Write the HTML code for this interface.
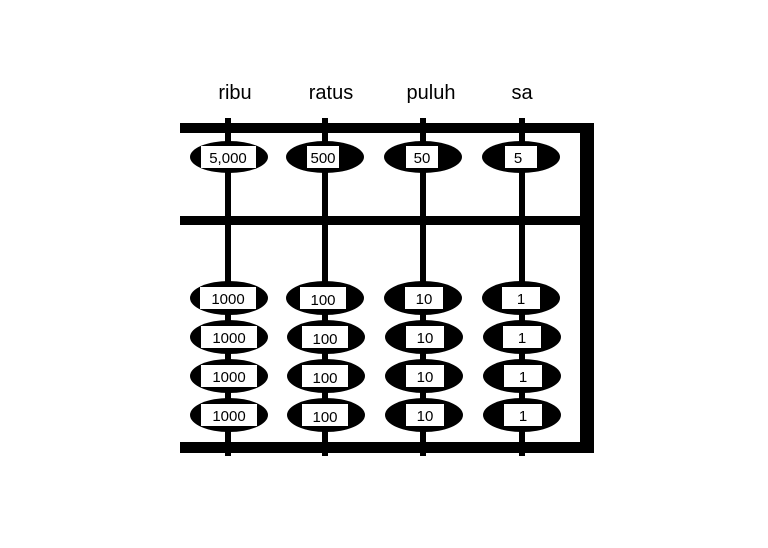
<!DOCTYPE html>
<html><head><style>body{margin:0;background:#fff}</style></head><body>
<svg width="768" height="543" xmlns="http://www.w3.org/2000/svg" font-family="Liberation Sans, sans-serif">
<rect width="768" height="543" fill="#fff"/>
<g font-size="20" text-anchor="middle" fill="#000">
<text x="235" y="99">ribu</text><text x="331" y="99">ratus</text><text x="431" y="99">puluh</text><text x="522" y="99">sa</text>
</g>
<rect x="180" y="123" width="414" height="10" fill="#000"/>
<rect x="180" y="216" width="400" height="9" fill="#000"/>
<rect x="180" y="442" width="414" height="11" fill="#000"/>
<rect x="580" y="123" width="14" height="330" fill="#000"/>
<g fill="#000">
<rect x="225" y="118" width="6" height="338"/>
<rect x="322" y="118" width="6" height="338"/>
<rect x="420" y="118" width="6" height="338"/>
<rect x="519" y="118" width="6" height="338"/>
</g>
<g fill="#000">
<ellipse cx="229" cy="157" rx="39" ry="16"/><ellipse cx="325" cy="157" rx="39" ry="16"/><ellipse cx="423" cy="157" rx="39" ry="16"/><ellipse cx="521" cy="157" rx="39" ry="16"/>
</g>
<g fill="#fff">
<rect x="201" y="146" width="55" height="22"/><rect x="307" y="146" width="32" height="22"/><rect x="406" y="146" width="32" height="22"/><rect x="505" y="146" width="32" height="22"/>
</g>
<g font-size="15" text-anchor="middle" fill="#000">
<text x="228" y="163">5,000</text><text x="323" y="163">500</text><text x="422" y="163">50</text><text x="518" y="163">5</text>
</g>
<g id="lower">
</g>
<g fill="#000">
<ellipse cx="229" cy="298" rx="39" ry="17"/><ellipse cx="325" cy="298" rx="39" ry="17"/><ellipse cx="423" cy="298" rx="39" ry="17"/><ellipse cx="521" cy="298" rx="39" ry="17"/>
<ellipse cx="229" cy="337" rx="39" ry="17"/><ellipse cx="326" cy="337" rx="39" ry="17"/><ellipse cx="424" cy="337" rx="39" ry="17"/><ellipse cx="522" cy="337" rx="39" ry="17"/>
<ellipse cx="229" cy="376" rx="39" ry="17"/><ellipse cx="326" cy="376" rx="39" ry="17"/><ellipse cx="424" cy="376" rx="39" ry="17"/><ellipse cx="522" cy="376" rx="39" ry="17"/>
<ellipse cx="229" cy="415" rx="39" ry="17"/><ellipse cx="326" cy="415" rx="39" ry="17"/><ellipse cx="424" cy="415" rx="39" ry="17"/><ellipse cx="522" cy="415" rx="39" ry="17"/>
</g>
<g fill="#fff">
<rect x="200" y="287" width="56" height="22"/><rect x="300" y="287" width="46" height="22"/><rect x="405" y="287" width="38" height="22"/><rect x="502" y="287" width="38" height="22"/>
<rect x="201" y="326" width="56" height="22"/><rect x="302" y="326" width="46" height="22"/><rect x="406" y="326" width="38" height="22"/><rect x="503" y="326" width="38" height="22"/>
<rect x="201" y="365" width="56" height="22"/><rect x="302" y="365" width="46" height="22"/><rect x="406" y="365" width="38" height="22"/><rect x="504" y="365" width="38" height="22"/>
<rect x="201" y="404" width="56" height="22"/><rect x="302" y="404" width="46" height="22"/><rect x="406" y="404" width="38" height="22"/><rect x="504" y="404" width="38" height="22"/>
</g>
<g font-size="15" text-anchor="middle" fill="#000">
<text x="228" y="304">1000</text><text x="323" y="305">100</text><text x="424" y="304">10</text><text x="521" y="304">1</text>
<text x="229" y="343">1000</text><text x="325" y="344">100</text><text x="425" y="343">10</text><text x="522" y="343">1</text>
<text x="229" y="382">1000</text><text x="325" y="383">100</text><text x="425" y="382">10</text><text x="523" y="382">1</text>
<text x="229" y="421">1000</text><text x="325" y="422">100</text><text x="425" y="421">10</text><text x="523" y="421">1</text>
</g>
</svg>
</body></html>
